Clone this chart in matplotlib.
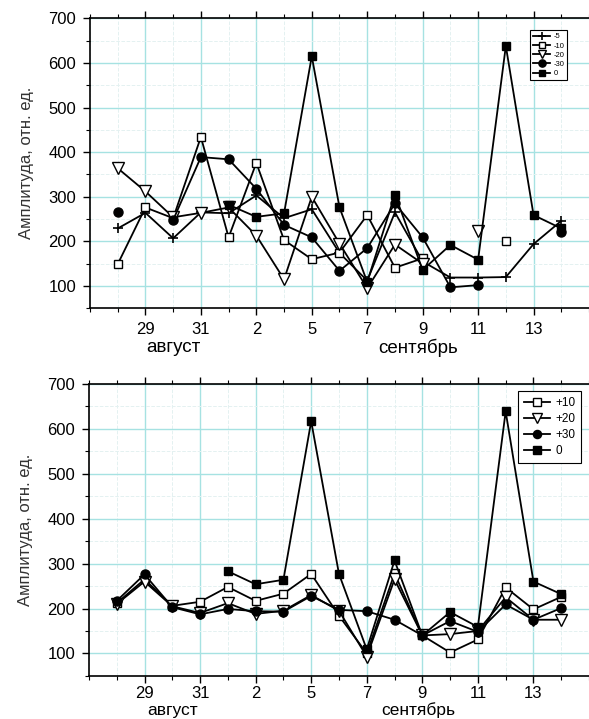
import numpy as np
import matplotlib
matplotlib.use("Agg")
import matplotlib.pyplot as plt
from matplotlib.ticker import MultipleLocator, FixedLocator
from matplotlib.transforms import blended_transform_factory

plt.rcParams['font.family'] = ['Liberation Sans', 'DejaVu Sans']

nan = np.nan
# day index of each measurement (1 = 28 Aug ... 17 = last day)
days = np.arange(1, 18)
tick_pos = [2, 4, 6, 8, 10, 12, 14, 16]
tick_labels = ['29', '31', '2', '5', '7', '9', '11', '13']
months = ['август', 'сентябрь']
ylabel = 'Амплитуда, отн. ед.'

# top panel
top_m5 = [229, 264, 207, 265, 263, 303, 252, 272, 174, 112, 265, 155, 119, 119, 120, 194, 246]
top_m10 = [149, 276, 252, 434, 209, 376, 203, 160, 175, 259, 141, 162, nan, nan, 200, nan, nan]
top_m20 = [364, 312, 254, 264, 276, 213, 115, 300, 195, 95, 193, 150, nan, 224, nan, nan, nan]
top_m30 = [267, nan, 248, 389, 384, 318, 237, 209, 134, 185, 285, 209, 97, 102, nan, nan, 220]
top_0 = [nan, nan, nan, nan, 282, 255, 263, 615, 276, 109, 305, 136, 192, 159, 638, 259, 229]

# bottom panel
bot_p10 = [212, 265, 206, 215, 248, 217, 233, 277, 184, 100, 278, 140, 102, 131, 247, 198, 226]
bot_p20 = [210, 260, 205, 190, 212, 188, 195, 230, 195, 93, 265, 140, 143, 150, 225, 175, 175]
bot_p30 = [217, 276, 203, 187, 199, 194, 193, 228, 197, 194, 175, 140, 172, 148, 209, 175, 201]
bot_0 = [nan, nan, nan, nan, 283, 254, 264, 617, 277, 109, 307, 140, 192, 159, 639, 260, 232]

fig = plt.figure(figsize=(5.89, 7.19), dpi=100)
ax1 = fig.add_axes([0.1528, 0.5712, 0.8472, 0.4033])
ax2 = fig.add_axes([0.1510, 0.0600, 0.8490, 0.4059])

styles = {
    'plus': dict(marker='+', ms=7, mew=1.2, mfc='black', mec='black'),
    'osq': dict(marker='s', ms=6, mew=1.0, mfc='white', mec='black'),
    'tri': dict(marker='v', ms=8, mew=1.0, mfc='white', mec='black'),
    'circ': dict(marker='o', ms=6.5, mew=1.0, mfc='black', mec='black'),
    'fsq': dict(marker='s', ms=6, mew=1.0, mfc='black', mec='black'),
}

def setup(ax, xpad):
    ax.set_xlim(0, 18)
    ax.set_ylim(50, 700)
    ax.xaxis.set_major_locator(FixedLocator(tick_pos))
    ax.set_xticklabels(tick_labels)
    ax.xaxis.set_minor_locator(MultipleLocator(1))
    ax.set_yticks(range(100, 701, 100))
    ax.yaxis.set_minor_locator(MultipleLocator(50))
    ax.tick_params(axis='both', which='major', direction='out', length=5, width=1,
                   labelsize=12, pad=5)
    ax.tick_params(axis='x', which='major', pad=xpad)
    ax.tick_params(axis='both', which='minor', direction='out', length=3, width=0.8)
    ax.tick_params(axis='x', which='both', top=True, bottom=True)
    ax.spines['right'].set_visible(False)
    for s in ['left', 'top', 'bottom']:
        ax.spines[s].set_linewidth(1.2)
    ax.grid(which='major', color='#a6e2e2', lw=1.0)
    ax.grid(which='minor', color='#e4f1f1', lw=0.7, ls='--')
    ax.set_axisbelow(True)
    ax.set_ylabel(ylabel, fontsize=12, color='#333333', labelpad=10)

setup(ax1, 5)
setup(ax2, 2)

tr1 = blended_transform_factory(ax1.transData, ax1.transAxes)
ax1.text(3, -0.135, months[0], transform=tr1, ha='center', va='center', fontsize=13.5)
ax1.text(11.85, -0.135, months[1], transform=tr1, ha='center', va='center', fontsize=13.5)
tr2 = blended_transform_factory(ax2.transData, fig.transFigure)
ax2.text(3, 0.002, months[0], transform=tr2, ha='center', va='bottom', fontsize=12.5)
ax2.text(11.85, 0.002, months[1], transform=tr2, ha='center', va='bottom', fontsize=12.5)

lw = 1.3
ax1.plot(days, top_m5, color='black', lw=lw, label='-5', **styles['plus'])
ax1.plot(days, top_m10, color='black', lw=lw, label='-10', **styles['osq'])
ax1.plot(days, top_m20, color='black', lw=lw, label='-20', **styles['tri'])
ax1.plot(days, top_m30, color='black', lw=lw, label='-30', **styles['circ'])
ax1.plot(days, top_0, color='black', lw=lw, label='0', **styles['fsq'])

ax2.plot(days, bot_p10, color='black', lw=lw, label='+10', **styles['osq'])
ax2.plot(days, bot_p20, color='black', lw=lw, label='+20', **styles['tri'])
ax2.plot(days, bot_p30, color='black', lw=lw, label='+30', **styles['circ'])
ax2.plot(days, bot_0, color='black', lw=lw, label='0', **styles['fsq'])

leg1 = ax1.legend(loc='upper right', bbox_to_anchor=(0.964, 0.973), fontsize=5.5,
                  fancybox=False, edgecolor='black', framealpha=1, markerscale=0.8,
                  handlelength=2.2, borderpad=0.4, labelspacing=0.25, handletextpad=0.4)
leg1.get_frame().set_linewidth(0.8)
leg2 = ax2.legend(loc='upper right', bbox_to_anchor=(0.996, 0.997), fontsize=8.5,
                  fancybox=False, edgecolor='black', framealpha=1, markerscale=0.9,
                  handlelength=2.2, borderpad=0.5, labelspacing=0.35, handletextpad=0.4)
leg2.get_frame().set_linewidth(0.8)

fig.savefig('out.png', dpi=100)
